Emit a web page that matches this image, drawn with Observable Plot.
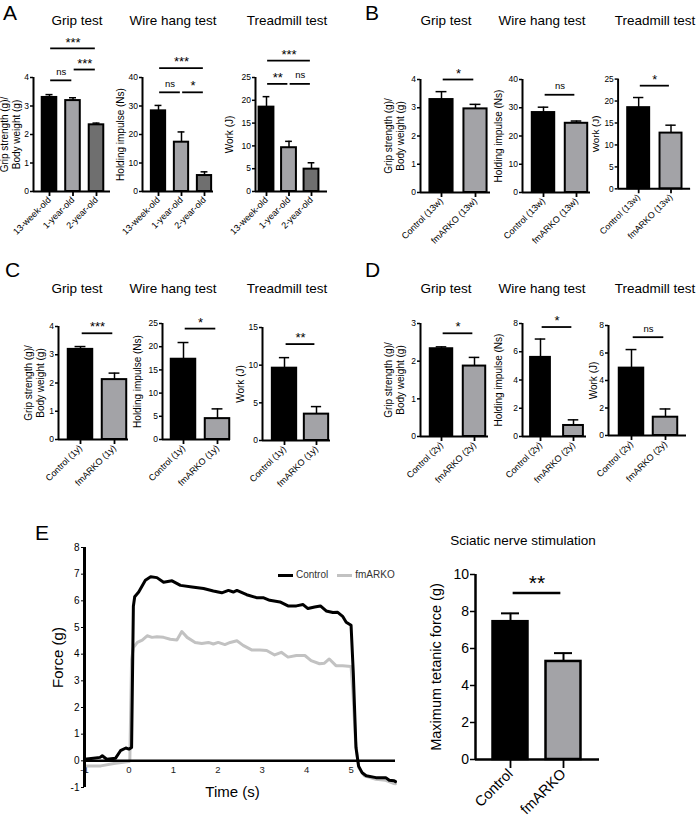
<!DOCTYPE html>
<html><head><meta charset="utf-8">
<script src="https://cdn.jsdelivr.net/npm/d3@7"></script>
<script src="https://cdn.jsdelivr.net/npm/@observablehq/plot@0.6"></script>
<style>
body{margin:0;background:#fff;}
#root{position:relative;width:696px;height:820px;overflow:hidden;background:#fff;font-family:"Liberation Sans",Arial,Helvetica,sans-serif;color:#000;}
.lbl{position:absolute;line-height:1;white-space:nowrap;}
.chart{position:absolute;}
.legend{position:absolute;display:flex;align-items:center;font-size:10px;color:#333;line-height:1;}
.legend .sw{display:inline-block;width:15px;height:3px;margin-right:3px;}
</style></head><body><div id="root"></div>
<script>
// ---------- DATA ----------
const testTitles = ["Grip test", "Wire hang test", "Treadmill test"];
const yLabels = ["Grip strength (g)/\nBody weight (g)", "Holding impulse (Ns)", "Work (J)"];

// Panel A (ages)
const ageGroups = ["13-week-old", "1-year-old", "2-year-old"];
const gripAgeMean = [3.30, 3.19, 2.34];
const gripAgeErr = [0.10, 0.10, 0.06];
const wireAgeMean = [28.3, 17.3, 5.6];
const wireAgeErr = [1.9, 3.6, 1.3];
const treadAgeMean = [18.5, 9.6, 4.9];
const treadAgeErr = [2.3, 1.4, 1.4];

// Panel B (13 weeks)
const groups13w = ["Control (13w)", "fmARKO (13w)"];
const grip13wMean = [3.29, 2.96];
const grip13wErr = [0.28, 0.16];
const wire13wMean = [28.3, 24.5];
const wire13wErr = [1.9, 0.8];
const tread13wMean = [18.5, 12.7];
const tread13wErr = [2.3, 1.8];

// Panel C (1 year)
const groups1y = ["Control (1y)", "fmARKO (1y)"];
const grip1yMean = [3.19, 2.12];
const grip1yErr = [0.10, 0.23];
const wire1yMean = [17.3, 4.5];
const wire1yErr = [3.6, 2.1];
const tread1yMean = [9.6, 3.5];
const tread1yErr = [1.4, 1.0];

// Panel D (2 years)
const groups2y = ["Control (2y)", "fmARKO (2y)"];
const grip2yMean = [2.33, 1.87];
const grip2yErr = [0.05, 0.23];
const wire2yMean = [5.6, 0.78];
const wire2yErr = [1.3, 0.4];
const tread2yMean = [4.9, 1.33];
const tread2yErr = [1.35, 0.6];

// Significance annotations: from group index, to group index, level (data units), label
const sigAgeGrip = [{from:0,to:1,level:3.9,label:"ns"},{from:1,to:2,level:4.28,label:"***"},{from:0,to:2,level:5.02,label:"***"}];
const sigAgeWire = [{from:0,to:1,level:34.8,label:"ns"},{from:1,to:2,level:34.8,label:"*"},{from:0,to:2,level:43.3,label:"***"}];
const sigAgeTread = [{from:0,to:1,level:23.6,label:"**"},{from:1,to:2,level:23.6,label:"ns"},{from:0,to:2,level:28.7,label:"***"}];
const sig13wGrip = [{from:0,to:1,level:4.0,label:"*"}];
const sig13wWire = [{from:0,to:1,level:34.6,label:"ns"}];
const sig13wTread = [{from:0,to:1,level:23.5,label:"*"}];
const sig1yGrip = [{from:0,to:1,level:3.76,label:"***"}];
const sig1yWire = [{from:0,to:1,level:23.9,label:"*"}];
const sig1yTread = [{from:0,to:1,level:12.8,label:"**"}];
const sig2yGrip = [{from:0,to:1,level:2.74,label:"*"}];
const sig2yWire = [{from:0,to:1,level:7.75,label:"*"}];
const sig2yTread = [{from:0,to:1,level:7.15,label:"ns"}];

// Tick values
const ticksGrip4 = [0,1,2,3,4];
const ticksGrip3 = [0,1,2,3];
const ticksWire40 = [0,10,20,30,40];
const ticksTread25 = [0,5,10,15,20,25];
const ticksWire25 = [0,5,10,15,20,25];
const ticksTread15 = [0,5,10,15];
const ticks8 = [0,2,4,6,8];

// Panel E: force traces
const ctrlTime  = [-1,-0.8,-0.65,-0.6,-0.5,-0.3,-0.19,-0.07,0,0.06,0.1,0.13,0.22,0.37,0.49,0.63,0.78,0.97,1.16,1.42,1.68,1.9,2.09,2.24,2.35,2.43,2.65,2.87,3.02,3.17,3.4,3.58,3.77,3.92,4.03,4.18,4.31,4.44,4.59,4.7,4.81,4.89,5.0,5.05,5.11,5.17,5.25,5.34,5.56,5.78,5.86,5.97,6.0];
const ctrlForce = [0.06,0.1,0.13,0.19,0.06,0.1,0.38,0.48,0.44,0.5,5.8,6.15,6.33,6.77,6.9,6.87,6.7,6.75,6.58,6.52,6.46,6.37,6.3,6.39,6.33,6.39,6.23,6.12,6.12,6.02,5.96,5.81,5.81,5.86,5.71,5.77,5.81,5.62,5.56,5.57,5.42,5.2,5.08,3.3,0.5,-0.2,-0.45,-0.56,-0.63,-0.63,-0.73,-0.75,-0.78];
const fmTime  = [-1,-0.63,-0.34,0,0.02,0.06,0.1,0.19,0.3,0.41,0.52,0.63,0.78,0.93,1.08,1.19,1.31,1.49,1.64,1.79,1.9,2.01,2.16,2.28,2.43,2.57,2.76,2.95,3.1,3.28,3.43,3.58,3.77,3.96,4.1,4.29,4.4,4.51,4.66,4.81,5.0,5.04,5.1,5.17,5.3,5.56,5.78,5.97,6.0];
const fmForce = [-0.19,-0.19,-0.1,-0.03,0.0,3.8,4.25,4.44,4.53,4.69,4.63,4.65,4.63,4.56,4.53,4.85,4.63,4.44,4.4,4.44,4.38,4.44,4.36,4.44,4.5,4.33,4.16,4.16,4.14,3.97,4.07,3.89,3.95,3.95,3.76,3.64,3.66,3.82,3.57,3.57,3.54,2.63,0.75,-0.25,-0.56,-0.69,-0.73,-0.85,-0.86];
const timeTicks = [-1,0,1,2,3,4,5];
const forceTicks = [-1,0,1,2,3,4,5,6,7,8];
const traceNames = ["Control", "fmARKO"];

// Panel E: tetanic force bars
const tetanicGroups = ["Control", "fmARKO"];
const tetanicMean = [7.45, 5.3];
const tetanicErr = [0.45, 0.45];
const sigTetanic = [{from:0,to:1,level:9.0,label:"**"}];
const tetanicTicks = [0,2,4,6,8,10];

// ---------- STYLE ----------
const FONT = '"Liberation Sans", Arial, Helvetica, sans-serif';
const BLACK = "#000000", LIGHT = "#a3a3a7", DARK = "#6f6f6f", TRACE_GRAY = "#c2c2c2";
const root = document.getElementById("root");

function place(node, left, top) {
  const w = document.createElement("div");
  w.className = "chart";
  w.style.left = left + "px"; w.style.top = top + "px";
  w.appendChild(node); root.appendChild(w);
}
function addText(txt, x, baseline, size, center) {
  const d = document.createElement("div");
  d.className = "lbl";
  d.textContent = txt;
  d.style.fontSize = size + "px";
  d.style.top = (baseline - 0.8465 * size) + "px";
  d.style.left = x + "px";
  if (center) d.style.transform = "translateX(-50%)";
  root.appendChild(d);
}

function barChart(c) {
  const o = Object.assign({labelOffset:24, tickFont:8.5, catFont:9, ylabelFont:10, yTickSize:3, xTickSize:5,
    axisWidth:2, capHalf:0.16, starFont:13, nsFont:9.5, starDy:-6, nsDy:-8.5, catPad:2, barStroke:2, errWidth:1.5, sigWidth:1.8}, c);
  const mL = 70, mR = 6, mT = 70, mB = 90;
  const lo = (o.axisX - o.tick0) / o.spacing, hi = (o.endX - o.tick0) / o.spacing;
  const innerW = o.endX - o.axisX, innerH = o.yBottom - o.yTop;
  const rows = o.cats.map((cat, i) => ({i, cat, mean: o.mean[i], err: o.err[i], fill: o.fills[i]}));
  const stars = o.sig.filter(d => d.label !== "ns");
  const ns = o.sig.filter(d => d.label === "ns");
  const plot = Plot.plot({
    width: mL + innerW + mR, height: mT + innerH + mB,
    marginLeft: mL, marginRight: mR, marginTop: mT, marginBottom: mB,
    style: {background: "transparent", overflow: "visible", fontFamily: FONT, color: "black"},
    x: {domain: [lo, hi], axis: null},
    y: {domain: [0, o.ymax], axis: null},
    marks: [
      Plot.rect(rows, {x1: d => d.i - o.half, x2: d => d.i + o.half, y1: 0, y2: "mean", fill: "fill", stroke: "black", strokeWidth: o.barStroke}),
      Plot.ruleX(rows, {x: "i", y1: "mean", y2: d => d.mean + d.err, strokeWidth: o.errWidth}),
      Plot.ruleY(rows, {y: d => d.mean + d.err, x1: d => d.i - o.capHalf, x2: d => d.i + o.capHalf, strokeWidth: o.errWidth}),
      Plot.ruleY([0], {strokeWidth: o.axisWidth}),
      Plot.ruleX([lo], {y1: 0, y2: o.ymax, strokeWidth: o.axisWidth}),
      Plot.axisY({ticks: o.yticks, tickSize: o.yTickSize, tickPadding: 1.5, fontSize: o.tickFont, label: null, tickFormat: d => String(d), strokeWidth: 1.5}),
      Plot.axisX({ticks: rows.map(d => d.i), tickFormat: i => o.cats[i], tickRotate: -45, tickSize: o.xTickSize, tickPadding: o.catPad, fontSize: o.catFont, label: null, strokeWidth: 1.8}),
      Plot.text([o.ylabel], {frameAnchor: "left", textAnchor: "middle", lineAnchor: "middle", rotate: -90, dx: -o.labelOffset, fontSize: o.ylabelFont, lineHeight: 1.15}),
      Plot.ruleY(o.sig, {y: "level", x1: d => d.from + 0.05, x2: d => d.to - 0.05, strokeWidth: o.sigWidth}),
      Plot.text(stars, {x: d => (d.from + d.to) / 2, y: "level", text: "label", fontSize: o.starFont, dy: o.starDy}),
      Plot.text(ns, {x: d => (d.from + d.to) / 2, y: "level", text: "label", fontSize: o.nsFont, dy: o.nsDy})
    ]
  });
  place(plot, o.axisX - mL, o.yTop - mT);
}

// ---------- PANEL LETTERS & TITLES ----------
addText("A", 3, 20, 21);
addText("B", 365, 20, 21);
addText("C", 5, 277, 21);
addText("D", 365, 277, 21);
addText("E", 35, 540, 21);
[77, 173, 287].forEach((x, k) => addText(testTitles[k], x, 25, 13.5, true));
[446, 542, 655].forEach((x, k) => addText(testTitles[k], x, 25, 13.5, true));
[77, 173, 287].forEach((x, k) => addText(testTitles[k], x, 293, 13.5, true));
[446, 542, 655].forEach((x, k) => addText(testTitles[k], x, 293, 13.5, true));
addText("Sciatic nerve stimulation", 523, 545, 13.5, true);

const fills3 = [BLACK, LIGHT, DARK], fills2 = [BLACK, LIGHT];

// Panel A
barChart({cats: ageGroups, mean: gripAgeMean, err: gripAgeErr, sig: sigAgeGrip, ymax: 4, yticks: ticksGrip4, ylabel: yLabels[0], fills: fills3,
  axisX: 33, tick0: 49, spacing: 23.5, endX: 110, yTop: 77, yBottom: 191, half: 0.31, capHalf: 0.15, labelOffset: 23});
barChart({cats: ageGroups, mean: wireAgeMean, err: wireAgeErr, sig: sigAgeWire, ymax: 40, yticks: ticksWire40, ylabel: yLabels[1], fills: fills3,
  axisX: 142, tick0: 158, spacing: 23, endX: 213, yTop: 77, yBottom: 191, half: 0.31, capHalf: 0.15, labelOffset: 22});
barChart({cats: ageGroups, mean: treadAgeMean, err: treadAgeErr, sig: sigAgeTread, ymax: 25, yticks: ticksTread25, ylabel: yLabels[2], fills: fills3,
  axisX: 255, tick0: 266, spacing: 22.5, endX: 327, yTop: 77, yBottom: 191, half: 0.33, capHalf: 0.15, labelOffset: 26});

// Panel B
barChart({cats: groups13w, mean: grip13wMean, err: grip13wErr, sig: sig13wGrip, ymax: 4, yticks: ticksGrip4, ylabel: yLabels[0], fills: fills2,
  axisX: 420, tick0: 441, spacing: 34, endX: 490, yTop: 79, yBottom: 192, half: 0.34, labelOffset: 26});
barChart({cats: groups13w, mean: wire13wMean, err: wire13wErr, sig: sig13wWire, ymax: 40, yticks: ticksWire40, ylabel: yLabels[1], fills: fills2,
  axisX: 522, tick0: 543, spacing: 33, endX: 590, yTop: 79, yBottom: 192, half: 0.34, labelOffset: 24});
barChart({cats: groups13w, mean: tread13wMean, err: tread13wErr, sig: sig13wTread, ymax: 25, yticks: ticksTread25, ylabel: yLabels[2], fills: fills2,
  axisX: 619, tick0: 640, spacing: 33, endX: 693, yTop: 80, yBottom: 192, half: 0.34, labelOffset: 23});

// Panel C
barChart({cats: groups1y, mean: grip1yMean, err: grip1yErr, sig: sig1yGrip, ymax: 4, yticks: ticksGrip4, ylabel: yLabels[0], fills: fills2,
  axisX: 58, tick0: 80, spacing: 34, endX: 128, yTop: 326, yBottom: 439, half: 0.36, labelOffset: 24});
barChart({cats: groups1y, mean: wire1yMean, err: wire1yErr, sig: sig1yWire, ymax: 25, yticks: ticksWire25, ylabel: yLabels[1], fills: fills2,
  axisX: 162, tick0: 183, spacing: 34, endX: 230, yTop: 323, yBottom: 439, half: 0.36, labelOffset: 25});
barChart({cats: groups1y, mean: tread1yMean, err: tread1yErr, sig: sig1yTread, ymax: 15, yticks: ticksTread15, ylabel: yLabels[2], fills: fills2,
  axisX: 262, tick0: 284, spacing: 32, endX: 330, yTop: 327, yBottom: 440, half: 0.38, labelOffset: 22});

// Panel D
barChart({cats: groups2y, mean: grip2yMean, err: grip2yErr, sig: sig2yGrip, ymax: 3, yticks: ticksGrip3, ylabel: yLabels[0], fills: fills2,
  axisX: 420, tick0: 441, spacing: 33, endX: 488, yTop: 323, yBottom: 436, half: 0.34, labelOffset: 26});
barChart({cats: groups2y, mean: wire2yMean, err: wire2yErr, sig: sig2yWire, ymax: 8, yticks: ticks8, ylabel: yLabels[1], fills: fills2,
  axisX: 522, tick0: 540, spacing: 33, endX: 586, yTop: 323, yBottom: 436, half: 0.3, labelOffset: 24});
barChart({cats: groups2y, mean: tread2yMean, err: tread2yErr, sig: sig2yTread, ymax: 8, yticks: ticks8, ylabel: yLabels[2], fills: fills2,
  axisX: 608, tick0: 631, spacing: 34, endX: 686, yTop: 325, yBottom: 435, half: 0.36, labelOffset: 15});

// Panel E bars
barChart({cats: tetanicGroups, mean: tetanicMean, err: tetanicErr, sig: sigTetanic, ymax: 10, yticks: tetanicTicks, ylabel: "Maximum tetanic force (g)", fills: fills2,
  axisX: 475, tick0: 510, spacing: 53, endX: 599, yTop: 574, yBottom: 759, half: 0.33, capHalf: 0.17, labelOffset: 40,
  tickFont: 14, catFont: 14.5, ylabelFont: 14.5, yTickSize: 5, xTickSize: 9, axisWidth: 2.5, starFont: 21, starDy: -9.5, catPad: 3,
  barStroke: 2.5, errWidth: 2, sigWidth: 2.5});

// Panel E trace
(function () {
  const ctrl = ctrlTime.map((t, i) => ({t, f: ctrlForce[i]}));
  const fm = fmTime.map((t, i) => ({t, f: fmForce[i]}));
  const mL = 84, mR = 20, mT = 27, mB = 50;
  const plot = Plot.plot({
    width: mL + 311 + mR, height: mT + 240 + mB,
    marginLeft: mL, marginRight: mR, marginTop: mT, marginBottom: mB,
    style: {background: "transparent", overflow: "visible", fontFamily: FONT, color: "black"},
    x: {domain: [-1, 6], axis: null},
    y: {domain: [-1, 8], axis: null},
    marks: [
      Plot.text(timeTicks, {x: d => d, y: 0, dy: 9.5, text: d => String(d), fontSize: 9.5, fill: "#222"}),
      Plot.line(fm, {x: "t", y: "f", stroke: TRACE_GRAY, strokeWidth: 3, strokeLinejoin: "round"}),
      Plot.line(ctrl, {x: "t", y: "f", stroke: BLACK, strokeWidth: 3, strokeLinejoin: "round"}),
      Plot.ruleY([0], {strokeWidth: 2.5}),
      Plot.ruleX([-1], {y1: -1, y2: 8, strokeWidth: 3}),
      Plot.axisY({ticks: forceTicks, tickSize: 3, tickPadding: 2, fontSize: 10, tickFormat: d => String(d), label: null}),
      Plot.text(["Force (g)"], {frameAnchor: "left", textAnchor: "middle", lineAnchor: "middle", rotate: -90, dx: -26, dy: -10, fontSize: 15}),
      Plot.text(["Time (s)"], {frameAnchor: "bottom", textAnchor: "middle", lineAnchor: "middle", dx: -7.5, dy: 5, fontSize: 15})
    ]
  });
  place(plot, 0, 547 - mT);
  const lg = document.createElement("div");
  lg.className = "legend";
  lg.style.left = "278px"; lg.style.top = "570px";
  lg.innerHTML = `<span class="sw" style="background:${BLACK}"></span><span>${traceNames[0]}</span>` +
    `<span class="sw" style="background:${TRACE_GRAY};margin-left:9px"></span><span>${traceNames[1]}</span>`;
  root.appendChild(lg);
})();
</script></body></html>
